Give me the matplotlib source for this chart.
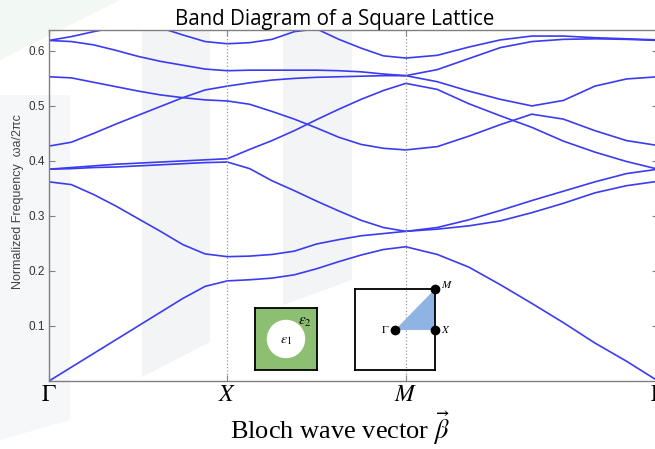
import numpy as np
import matplotlib
matplotlib.use("Agg")
import matplotlib.pyplot as plt
from matplotlib.patches import Polygon, Circle

plt.rcParams['mathtext.fontset'] = 'stix'

# sample positions along each leg of the path (fraction of the leg)
seg_frac = [0, 0.125, 0.25, 0.375, 0.5, 0.625, 0.75, 0.875, 1.0]
tick_labels = [r'$\Gamma$', r'$X$', r'$M$', r'$\Gamma$']

# normalized frequency (wa/2pi c) read per band: Gamma->X, X->M, M->Gamma
band1_gx = [0.000, 0.025, 0.050, 0.075, 0.100, 0.125, 0.150, 0.172, 0.182]
band1_xm = [0.182, 0.184, 0.187, 0.193, 0.204, 0.217, 0.229, 0.239, 0.244]
band1_mg = [0.244, 0.230, 0.207, 0.175, 0.141, 0.106, 0.069, 0.036, 0.000]

band2_gx = [0.362, 0.357, 0.339, 0.318, 0.295, 0.272, 0.248, 0.231, 0.226]
band2_xm = [0.226, 0.227, 0.230, 0.236, 0.249, 0.257, 0.264, 0.268, 0.272]
band2_mg = [0.272, 0.276, 0.282, 0.291, 0.306, 0.323, 0.342, 0.355, 0.363]

band3_gx = [0.385, 0.386, 0.388, 0.389, 0.391, 0.393, 0.395, 0.397, 0.398]
band3_xm = [0.398, 0.386, 0.364, 0.346, 0.327, 0.309, 0.292, 0.279, 0.272]
band3_mg = [0.272, 0.279, 0.293, 0.310, 0.328, 0.345, 0.362, 0.377, 0.385]

band4_gx = [0.385, 0.388, 0.391, 0.394, 0.396, 0.398, 0.400, 0.402, 0.404]
band4_xm = [0.404, 0.421, 0.437, 0.455, 0.475, 0.494, 0.512, 0.528, 0.541]
band4_mg = [0.541, 0.530, 0.504, 0.482, 0.461, 0.436, 0.416, 0.399, 0.385]

band5_gx = [0.427, 0.434, 0.450, 0.467, 0.483, 0.499, 0.515, 0.529, 0.536]
band5_xm = [0.536, 0.542, 0.547, 0.550, 0.552, 0.553, 0.554, 0.555, 0.555]
band5_mg = [0.555, 0.544, 0.527, 0.512, 0.500, 0.510, 0.536, 0.549, 0.553]

band6_gx = [0.553, 0.551, 0.543, 0.535, 0.527, 0.520, 0.515, 0.511, 0.509]
band6_xm = [0.509, 0.503, 0.490, 0.476, 0.460, 0.443, 0.430, 0.423, 0.420]
band6_mg = [0.420, 0.426, 0.445, 0.466, 0.485, 0.476, 0.455, 0.437, 0.428]

band7_gx = [0.619, 0.617, 0.611, 0.601, 0.590, 0.581, 0.574, 0.567, 0.564]
band7_xm = [0.564, 0.565, 0.565, 0.565, 0.565, 0.564, 0.562, 0.558, 0.555]
band7_mg = [0.555, 0.566, 0.586, 0.606, 0.617, 0.621, 0.622, 0.621, 0.619]

band8_gx = [0.619, 0.626, 0.635, 0.643, 0.648, 0.642, 0.629, 0.617, 0.613]
band8_xm = [0.613, 0.615, 0.621, 0.635, 0.640, 0.621, 0.605, 0.591, 0.587]
band8_mg = [0.587, 0.592, 0.607, 0.620, 0.627, 0.627, 0.624, 0.622, 0.620]

bands = [
    (band1_gx, band1_xm, band1_mg),
    (band2_gx, band2_xm, band2_mg),
    (band3_gx, band3_xm, band3_mg),
    (band4_gx, band4_xm, band4_mg),
    (band5_gx, band5_xm, band5_mg),
    (band6_gx, band6_xm, band6_mg),
    (band7_gx, band7_xm, band7_mg),
    (band8_gx, band8_xm, band8_mg),
]

W, H = 655, 449


def fig_rect(x0, y0, w, h):
    # pixel box (top-left origin) -> figure fraction
    return [x0 / W, 1 - (y0 + h) / H, w / W, h / H]


fig = plt.figure(figsize=(W / 100, H / 100), dpi=100)

# faint watermark shapes in the background
bg = fig.add_axes([0, 0, 1, 1], zorder=-5)
bg.set_xlim(0, W)
bg.set_ylim(H, 0)
bg.axis('off')
for pts, col in [
    ([(142, 30), (210, 30), (210, 342), (142, 377)], '#f3f4f6'),
    ([(283, 30), (352, 30), (352, 280), (283, 305)], '#f3f4f6'),
    ([(0, 95), (70, 95), (70, 420), (0, 440)], '#f6f7f8'),
    ([(0, 0), (120, 0), (0, 60)], '#f2f8f4'),
]:
    bg.add_patch(Polygon(pts, closed=True, fc=col, ec='none'))

ax = fig.add_axes(fig_rect(49, 30, 609, 351))
ax.set_facecolor('none')

sq2 = np.sqrt(2)
f = np.array(seg_frac)
k_path = np.concatenate([f, 1 + f[1:], 2 + sq2 * f[1:]])
for gx, xm, mg in bands:
    vals = np.concatenate([gx, xm[1:], mg[1:]])
    ax.plot(k_path, vals, color='#3b3bf2', lw=1.2)

ax.axvline(1, color='#9a9a9a', ls=':', lw=0.9)
ax.axvline(2, color='#9a9a9a', ls=':', lw=0.9)

ax.set_xlim(0, 2 + sq2)
ax.set_ylim(0, 0.638)
ax.set_xticks([0, 1, 2, 2 + sq2])
ax.set_xticklabels(tick_labels, fontsize=17)
ax.set_yticks([0.1, 0.2, 0.3, 0.4, 0.5, 0.6])
ax.set_yticklabels(['0.1', '0.2', '0.3', '0.4', '0.5', '0.6'],
                   family='Liberation Sans', fontsize=8.5, color='#333333')
ax.tick_params(direction='in', length=4, width=0.8, color='#808080',
               top=True, right=True)
ax.tick_params(axis='x', pad=1)
ax.tick_params(axis='y', pad=3)
for s in ax.spines.values():
    s.set_color('#808080')
    s.set_linewidth(1.0)

fig.text(335 / W, 1 - 19 / H, 'Band Diagram of a Square Lattice',
         family='Open Sans', fontsize=14.8, ha='center', va='center')
fig.text(18 / W, 1 - 202 / H, 'Normalized Frequency  ωa/2πc',
         family='Liberation Sans', fontsize=9, color='#444444',
         rotation=90, ha='center', va='center')
fig.text(340 / W, 1 - 428 / H, r'Bloch wave vector $\vec{\beta}$',
         family='Liberation Serif', fontsize=19, ha='center', va='center')

# unit cell inset
cell = fig.add_axes(fig_rect(255, 308, 62, 62))
cell.set_facecolor('#8dbf72')
cell.set_xlim(0, 1)
cell.set_ylim(0, 1)
cell.set_xticks([])
cell.set_yticks([])
for s in cell.spines.values():
    s.set_color('black')
    s.set_linewidth(1.3)
cell.add_patch(Circle((0.5, 0.5), 0.31, fc='white', ec='none'))
cell.text(0.5, 0.48, r'$\varepsilon_1$', fontsize=10, ha='center', va='center')
cell.text(0.8, 0.78, r'$\varepsilon_2$', fontsize=11, ha='center', va='center')

# Brillouin zone inset
bz = fig.add_axes(fig_rect(355, 289, 80, 81))
bz.set_facecolor('none')
bz.set_xlim(0, 1)
bz.set_ylim(0, 1)
bz.set_xticks([])
bz.set_yticks([])
for s in bz.spines.values():
    s.set_color('black')
    s.set_linewidth(1.3)
bz.add_patch(Polygon([(0.5, 0.5), (1, 0.5), (1, 1)], closed=True,
                     fc='#8fb3e2', ec='none'))
bz.plot([0.5, 1, 1], [0.5, 0.5, 1], 'o', color='black', ms=6, clip_on=False)
bz.text(0.38, 0.5, r'$\Gamma$', fontsize=8, ha='center', va='center')
bz.text(1.14, 0.5, r'$X$', fontsize=8, ha='center', va='center')
bz.text(1.15, 1.06, r'$M$', fontsize=8, ha='center', va='center')

fig.savefig('out.png', dpi=100)
